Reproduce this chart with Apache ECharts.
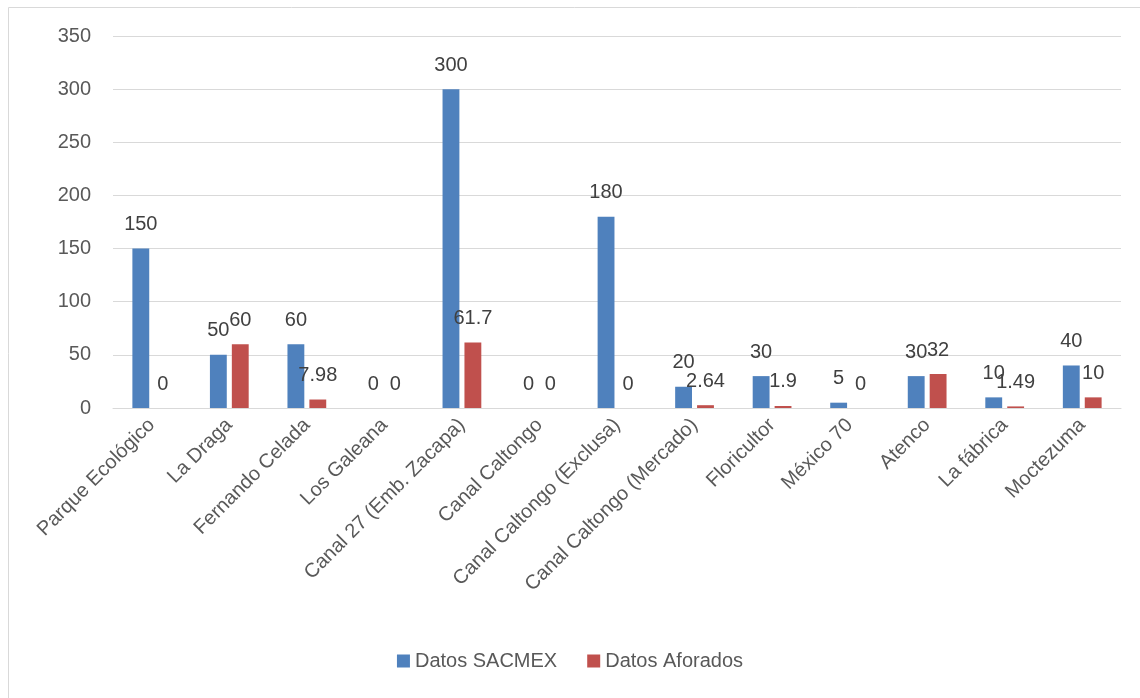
<!DOCTYPE html>
<html>
<head>
<meta charset="utf-8">
<script src="https://cdn.jsdelivr.net/npm/echarts@6/dist/echarts.min.js"></script>
<style>
  html, body { margin: 0; padding: 0; background: #fff; }
  #chart { width: 1140px; height: 698px; }
</style>
</head>
<body>
<div id="chart"></div>
<script>
  var categories = [
    'Parque Ecológico', 'La Draga', 'Fernando Celada', 'Los Galeana',
    'Canal 27 (Emb. Zacapa)', 'Canal Caltongo', 'Canal Caltongo (Exclusa)',
    'Canal Caltongo (Mercado)', 'Floricultor', 'México 70', 'Atenco',
    'La fábrica', 'Moctezuma'
  ];
  var sacmex = [150, 50, 60, 0, 300, 0, 180, 20, 30, 5, 30, 10, 40];
  var aforados = [0, 60, 7.98, 0, 61.7, 0, 0, 2.64, 1.9, 0, 32, 1.49, 10];
  var yTicks = { min: 0, max: 350, interval: 50 };

  var font = 'Liberation Sans';
  var labelStyle = {
    show: true,
    position: 'top',
    distance: 14,
    color: '#404040',
    fontSize: 20,
    fontFamily: font
  };

  var chart = echarts.init(document.getElementById('chart'));
  chart.setOption({
    animation: false,
    color: ['#4f81bd', '#c0504d'],
    graphic: [{
      type: 'rect',
      shape: { x: 8.5, y: 7.5, width: 1150, height: 700 },
      style: { fill: null, stroke: '#d9d9d9', lineWidth: 1 },
      silent: true
    }],
    grid: { left: 113, right: 19, top: 36, bottom: 290 },
    legend: {
      bottom: 22,
      left: 'center',
      itemWidth: 13,
      itemHeight: 13,
      itemGap: 30,
      icon: 'rect',
      textStyle: { color: '#595959', fontSize: 20, fontFamily: font }
    },
    xAxis: {
      type: 'category',
      data: categories,
      axisLine: { lineStyle: { color: '#d9d9d9', width: 1 } },
      axisTick: { show: false },
      axisLabel: {
        rotate: 45,
        interval: 0,
        margin: 14,
        color: '#595959',
        fontSize: 20,
        fontFamily: font
      }
    },
    yAxis: {
      type: 'value',
      min: yTicks.min,
      max: yTicks.max,
      interval: yTicks.interval,
      axisLine: { show: false },
      axisTick: { show: false },
      axisLabel: { color: '#595959', fontSize: 20, fontFamily: font, margin: 22 },
      splitLine: { lineStyle: { color: '#d9d9d9', width: 1 } }
    },
    series: [{
      name: 'Datos SACMEX',
      type: 'bar',
      data: sacmex,
      barGap: '30%',
      barCategoryGap: '50%',
      label: labelStyle
    }, {
      name: 'Datos Aforados',
      type: 'bar',
      data: aforados,
      label: labelStyle
    }]
  });
</script>
</body>
</html>
